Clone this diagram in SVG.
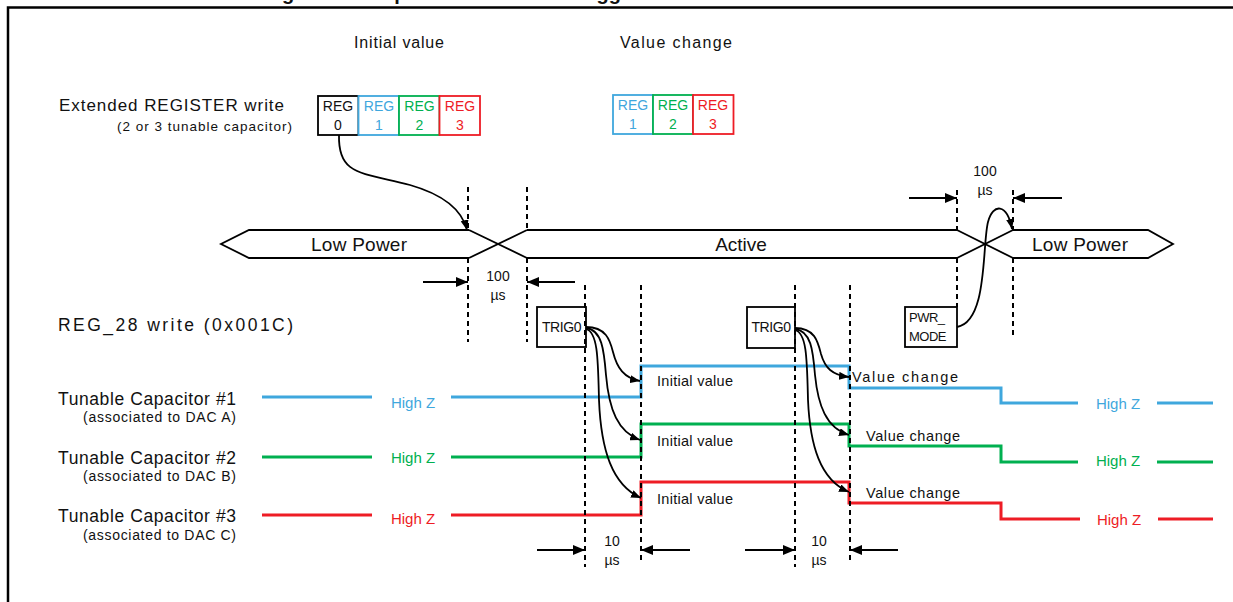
<svg xmlns="http://www.w3.org/2000/svg" width="1233" height="602" viewBox="0 0 1233 602">
<style>
text{font-family:"Liberation Sans",Arial,sans-serif;fill:#111}
.dash{stroke:#000;stroke-width:2;stroke-dasharray:5,4;fill:none}
.ln{stroke:#000;stroke-width:1.8;fill:none}
.meas{stroke:#000;stroke-width:2;fill:none;marker-end:url(#big)}
.curve{stroke:#000;stroke-width:1.8;fill:none;marker-end:url(#ah)}
.box{fill:#fff;stroke-width:1.8}
.sig{fill:none;stroke-width:3}
.blue{stroke:#3fa7dd}.green{stroke:#00b050}.red{stroke:#ee1c25}
.tb{fill:#3fa7dd}.tg{fill:#00b050}.tr{fill:#ee1c25}
.reg{font-size:14px;text-anchor:middle}
.bus{font-size:19px;text-anchor:middle}
.lbl{font-size:14.5px}
.hz{font-size:15px;text-anchor:middle}
.cap{font-size:17.5px;text-anchor:end}
.sub{font-size:14px;text-anchor:end}
.us{font-size:14px;text-anchor:middle}
</style>
<defs>
<marker id="ah" viewBox="0 0 10 8" refX="10" refY="4" markerWidth="10" markerHeight="8" markerUnits="userSpaceOnUse" orient="auto"><path d="M0,0 L10,4 L0,8 z" fill="#000"/></marker>
<marker id="big" viewBox="0 0 12 10" refX="12" refY="5" markerWidth="12" markerHeight="10" markerUnits="userSpaceOnUse" orient="auto"><path d="M0,0 L12,5 L0,10 z" fill="#000"/></marker>
</defs>

<g id="frame">
<path d="M8,602 V7.5 H1233" fill="none" stroke="#000" stroke-width="2.5"/>
<text font-weight="bold" font-size="20" y="0.3"><tspan x="251">Diagram</tspan><tspan x="343">example</tspan><tspan x="531">with trigger</tspan></text>
</g>

<g id="headers">
<text x="399" y="48" font-size="16" text-anchor="middle" textLength="90">Initial value</text>
<text x="676" y="48" font-size="16" text-anchor="middle" textLength="112">Value change</text>
<text x="284" y="111" font-size="17" text-anchor="end" textLength="225">Extended REGISTER write</text>
<text x="292" y="131" font-size="13.5" text-anchor="end" textLength="175">(2 or 3 tunable capacitor)</text>
<text x="58" y="331" font-size="17.5" textLength="235">REG_28 write (0x001C)</text>
</g>

<g id="reg-initial">
<rect class="box" x="318" y="96" width="40.5" height="39" stroke="#000"/>
<text class="reg" x="338" y="111">REG</text><text class="reg" x="338" y="130">0</text>
<rect class="box" x="358.5" y="96" width="40.5" height="39" stroke="#3fa7dd"/>
<text class="reg tb" x="379" y="111">REG</text><text class="reg tb" x="379" y="130">1</text>
<rect class="box" x="399" y="96" width="40.5" height="39" stroke="#00b050"/>
<text class="reg tg" x="419.5" y="111">REG</text><text class="reg tg" x="419.5" y="130">2</text>
<rect class="box" x="439.5" y="96" width="40.5" height="39" stroke="#ee1c25"/>
<text class="reg tr" x="460" y="111">REG</text><text class="reg tr" x="460" y="130">3</text>
</g>

<g id="reg-change">
<rect class="box" x="613" y="95" width="40" height="39" stroke="#3fa7dd"/>
<text class="reg tb" x="633" y="110">REG</text><text class="reg tb" x="633" y="129">1</text>
<rect class="box" x="653" y="95" width="40" height="39" stroke="#00b050"/>
<text class="reg tg" x="673" y="110">REG</text><text class="reg tg" x="673" y="129">2</text>
<rect class="box" x="693" y="95" width="40.5" height="39" stroke="#ee1c25"/>
<text class="reg tr" x="713" y="110">REG</text><text class="reg tr" x="713" y="129">3</text>
</g>

<g id="bus">
<path class="ln" d="M469,230 L249,230 L221,244 L249,258 L469,258"/>
<path class="ln" d="M469,230 L527,258 M469,258 L527,230"/>
<path class="ln" d="M527,230 L957,230 M527,258 L957,258"/>
<path class="ln" d="M957,230 L1013,258 M957,258 L1013,230"/>
<path class="ln" d="M1013,230 L1148,230 L1173,244 L1148,258 L1013,258"/>
<text class="bus" x="359" y="251" textLength="96">Low Power</text>
<text class="bus" x="741" y="251">Active</text>
<text class="bus" x="1080" y="251" textLength="96">Low Power</text>
</g>

<g id="trig0-1">
<rect class="box" x="537" y="307" width="49" height="40" stroke="#000"/>
<text x="561.5" y="332" font-size="14" text-anchor="middle" letter-spacing="-0.4">TRIG0</text>
</g>
<g id="trig0-2">
<rect class="box" x="747" y="307" width="48" height="41" stroke="#000"/>
<text x="771" y="332" font-size="14" text-anchor="middle" letter-spacing="-0.4">TRIG0</text>
</g>
<g id="pwr-mode">
<rect class="box" x="905" y="307" width="52" height="40" stroke="#000"/>
<text x="909" y="322" font-size="13" letter-spacing="-0.5">PWR_</text>
<text x="909" y="341" font-size="13" letter-spacing="-0.5">MODE</text>
</g>

<g id="signals">
<path class="sig blue" d="M262,397 H372 M451,397 H641 V366 H849 V388 H1001 V403 H1078 M1157,403 H1213"/>
<path class="sig green" d="M262,457 H372 M451,457 H641 V424 H849 V446 H1001 V462 H1078 M1157,462 H1213"/>
<path class="sig red" d="M262,515 H372 M451,515 H641 V482 H849 V503 H1001 V519 H1080 M1158,519 H1213"/>
<text class="hz tb" x="413" y="408">High Z</text>
<text class="hz tg" x="413" y="463">High Z</text>
<text class="hz tr" x="413" y="524">High Z</text>
<text class="hz tb" x="1118" y="409">High Z</text>
<text class="hz tg" x="1118" y="466">High Z</text>
<text class="hz tr" x="1119" y="525">High Z</text>
</g>

<g id="labels">
<text class="cap" x="236" y="405" textLength="178">Tunable Capacitor #1</text>
<text class="sub" x="236" y="422" textLength="153">(associated to DAC A)</text>
<text class="cap" x="236" y="464" textLength="178">Tunable Capacitor #2</text>
<text class="sub" x="236" y="481" textLength="153">(associated to DAC B)</text>
<text class="cap" x="236" y="522" textLength="178">Tunable Capacitor #3</text>
<text class="sub" x="236" y="540" textLength="153">(associated to DAC C)</text>
<text class="lbl" x="657" y="386" textLength="76">Initial value</text>
<text class="lbl" x="657" y="446" textLength="76">Initial value</text>
<text class="lbl" x="657" y="504" textLength="76">Initial value</text>
<text class="lbl" x="852" y="382" textLength="106">Value change</text>
<text class="lbl" x="866" y="441" textLength="94">Value change</text>
<text class="lbl" x="866" y="498" textLength="94">Value change</text>
</g>

<g id="timing">
<text class="us" x="498" y="281">100</text><text class="us" x="498" y="300">µs</text>
<text class="us" x="985" y="176">100</text><text class="us" x="985" y="195">µs</text>
<text class="us" x="612" y="546">10</text><text class="us" x="612" y="565">µs</text>
<text class="us" x="819" y="546">10</text><text class="us" x="819" y="565">µs</text>
</g>

<g id="connectors">
<path class="dash" d="M468,187 V230 M468,258 V342"/>
<path class="dash" d="M527,187 V230 M527,258 V342"/>
<path class="dash" d="M585,285 V567"/>
<path class="dash" d="M641,285 V561"/>
<path class="dash" d="M795,285 V567"/>
<path class="dash" d="M850,285 V561"/>
<path class="dash" d="M957,190 V230 M957,258 V307"/>
<path class="dash" d="M1013,190 V230 M1013,258 V335"/>
<path class="meas" d="M423,282 H468"/>
<path class="meas" d="M575,282 H527"/>
<path class="meas" d="M909,198 H957"/>
<path class="meas" d="M1062,198 H1013"/>
<path class="meas" d="M537,550 H585"/>
<path class="meas" d="M690,550 H641"/>
<path class="meas" d="M745,550 H795"/>
<path class="meas" d="M898,550 H850"/>
<path class="curve" d="M339,135 C338,175 360,172 410,185 C445,195 462,210 467,230"/>
<path class="curve" d="M957,327 C988,322 982,245 988,222 C993,203 1007,203 1012,229"/>
<path class="curve" d="M586,327 C606,327 610,340 613,352 C617,368 624,378 640,381"/>
<path class="curve" d="M586,328 C602,330 604,350 606,375 C609,410 618,432 640,440"/>
<path class="curve" d="M586,329 C598,332 598,360 599,400 C601,450 612,485 641,498"/>
<path class="curve" d="M795,328 C815,328 818,342 821,354 C825,368 832,375 849,377"/>
<path class="curve" d="M795,329 C811,331 813,350 815,375 C818,405 826,428 849,435"/>
<path class="curve" d="M795,330 C807,333 807,360 808,400 C810,445 820,480 849,492"/>
</g>
</svg>
